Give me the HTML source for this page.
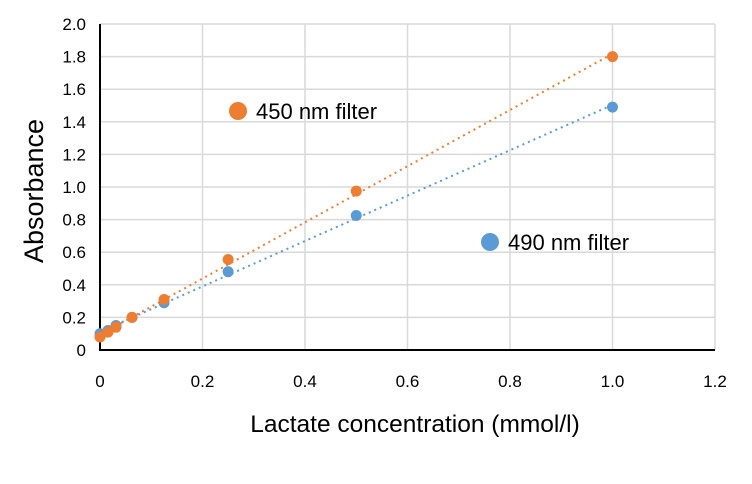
<!DOCTYPE html>
<html><head><meta charset="utf-8"><style>
body{margin:0;background:#fff;font-family:"Liberation Sans",Arial,sans-serif}
</style></head><body>
<svg id="chart" width="752" height="479" xmlns="http://www.w3.org/2000/svg"></svg>
<script>
const xValues=[0,0.015625,0.03125,0.0625,0.125,0.25,0.5,1];
const series450=[0.08,0.11,0.14,0.20,0.31,0.555,0.975,1.80];
const series490=[0.10,0.12,0.15,0.20,0.29,0.48,0.825,1.49];
const xTicks=[0,0.2,0.4,0.6,0.8,1.0,1.2];
const xTickLabels=["0","0.2","0.4","0.6","0.8","1.0","1.2"];
const yTicks=[0,0.2,0.4,0.6,0.8,1.0,1.2,1.4,1.6,1.8,2.0];
const yTickLabels=["0","0.2","0.4","0.6","0.8","1.0","1.2","1.4","1.6","1.8","2.0"];
const svg=document.getElementById('chart');const NS="http://www.w3.org/2000/svg";
const X0=100,X1=715,Y0=350,Y1=24;
const sx=v=>X0+v/1.2*(X1-X0);const sy=v=>Y0-v/2*(Y0-Y1);
function mk(t,a,p){const e=document.createElementNS(NS,t);for(const k in a)e.setAttribute(k,a[k]);(p||svg).appendChild(e);return e;}
yTicks.forEach((v,i)=>{if(v>0){const l=mk('line',{x1:X0,x2:X1,y1:sy(v),y2:sy(v),stroke:'#d9d9d9','stroke-width':1.5});

}
const t=mk('text',{x:X0-14,y:sy(v)+6,'text-anchor':'end','font-size':17,fill:'#000'});t.textContent=yTickLabels[i];

});
xTicks.forEach((v,i)=>{if(v>0){const l=mk('line',{x1:sx(v),x2:sx(v),y1:Y1,y2:Y0,stroke:'#d9d9d9','stroke-width':1.5});

}
const t=mk('text',{x:sx(v),y:Y0+37,'text-anchor':'middle','font-size':17,fill:'#000'});t.textContent=xTickLabels[i];

});
const ax=mk('path',{d:`M${X0},${Y1}V${Y0}H${X1}`,fill:'none',stroke:'#000','stroke-width':2});


function fit(ys){const n=xValues.length;let mx=0,my=0;xValues.forEach((x,i)=>{mx+=x;my+=ys[i];});mx/=n;my/=n;let sxy=0,sxx=0;xValues.forEach((x,i)=>{sxy+=(x-mx)*(ys[i]-my);sxx+=(x-mx)**2;});const b=sxy/sxx;return[my-b*mx,b];}
function draw(ys,col,name){const[a,b]=fit(ys);
const l=mk('line',{x1:sx(0),y1:sy(a),x2:sx(1),y2:sy(a+b),stroke:col,'stroke-width':2,'stroke-dasharray':'2 4'});


xValues.forEach((x,i)=>{const c=mk('circle',{cx:sx(x),cy:sy(ys[i]),r:5.5,fill:col});

});}
draw(series490,'#5b9bd5','series-490');
draw(series450,'#ed7d31','series-450');
function legend(cx,cy,col,txt,name){const c=mk('circle',{cx:cx,cy:cy,r:9,fill:col});


const t=mk('text',{x:cx+18,y:cy+8,'font-size':22,fill:'#000'});t.textContent=txt;

}
legend(238,111,'#ed7d31','450 nm filter','legend-450');
legend(490,242,'#5b9bd5','490 nm filter','legend-490');
const xt=mk('text',{x:415,y:432,'text-anchor':'middle','font-size':24.5,fill:'#000'});xt.textContent='Lactate concentration (mmol/l)';


const yt=mk('text',{x:0,y:0,'text-anchor':'middle','font-size':27,fill:'#000',transform:'translate(43,191) rotate(-90)'});yt.textContent='Absorbance';


</script>
</body></html>
